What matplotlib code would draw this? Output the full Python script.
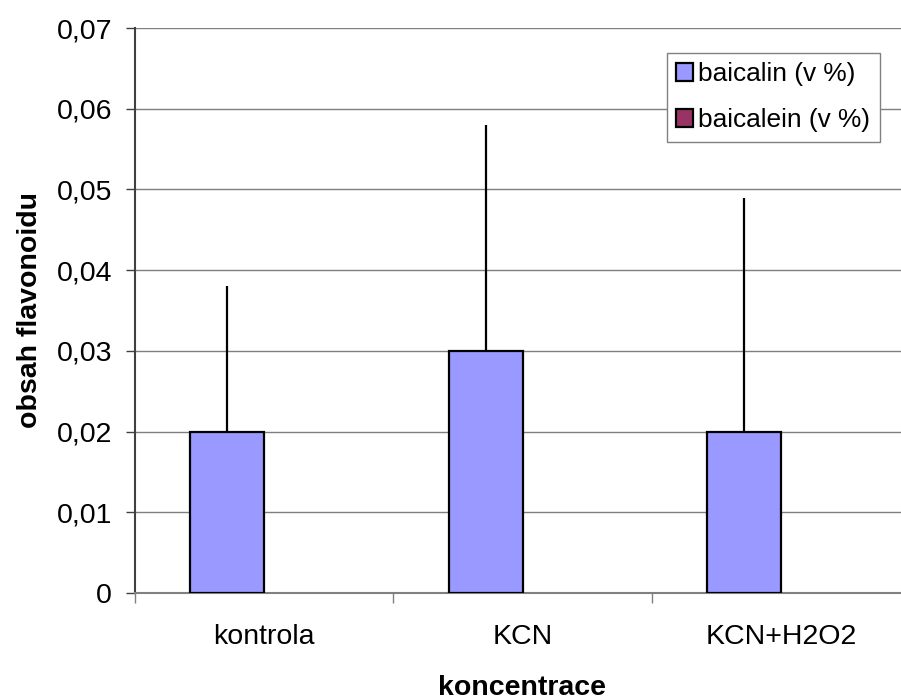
import matplotlib.pyplot as plt
import numpy as np
from matplotlib.ticker import FuncFormatter, FixedLocator
from matplotlib.patches import Patch

plt.rcParams['font.family'] = ['Liberation Sans', 'DejaVu Sans']

# data
kategorie = ['kontrola', 'KCN', 'KCN+H2O2']
baicalin = np.array([0.02, 0.03, 0.02])
baicalin_err = np.array([0.018, 0.028, 0.029])
baicalein = np.array([0.0, 0.0, 0.0])

fs = 20.5

fig = plt.figure(figsize=(9.01, 6.99), dpi=100)
ax = fig.add_axes([135 / 901, 106 / 699, 775 / 901, 565 / 699])

x = np.arange(len(kategorie)) + 0.5
w = 1 / 3.5

ax.bar(x - w / 2, baicalin, w, color='#9999FF', edgecolor='black', linewidth=1.6, zorder=3)
# zero-valued series: no visible outline
ax.bar(x + w / 2, baicalein, w, color='#993366', linewidth=0, zorder=3)
ax.errorbar(x - w / 2, baicalin, yerr=[np.zeros(3), baicalin_err], fmt='none',
            ecolor='black', elinewidth=1.6, capsize=0, zorder=4)

ax.set_xlim(0, 3)
ax.set_ylim(0, 0.07)
ax.set_yticks(np.arange(0, 0.071, 0.01))
ax.yaxis.set_major_formatter(FuncFormatter(lambda v, p: ('%g' % round(v, 3)).replace('.', ',')))
ax.grid(axis='y', color='#7f7f7f', linewidth=1.0, zorder=0)

ax.set_xticks(x)
ax.set_xticklabels(kategorie)
ax.xaxis.set_minor_locator(FixedLocator([0, 1, 2, 3]))
ax.tick_params(axis='x', which='major', length=0, pad=22, labelsize=fs)
ax.tick_params(axis='x', which='minor', length=7, width=1, color='#808080', direction='out')
ax.tick_params(axis='y', length=6.5, width=1, color='#404040', direction='out', pad=10, labelsize=fs)

for s in ['top', 'right']:
    ax.spines[s].set_visible(False)
ax.spines['left'].set_color('#404040')
ax.spines['left'].set_linewidth(1.5)
ax.spines['bottom'].set_color('#808080')
ax.spines['bottom'].set_linewidth(1.5)

ax.set_xlabel('koncentrace', fontsize=fs, fontweight='bold', labelpad=18)
ax.set_ylabel('obsah flavonoidu', fontsize=fs, fontweight='bold', labelpad=10)

handles = [Patch(facecolor='#9999FF', edgecolor='black', linewidth=1.6, label='baicalin (v %)'),
           Patch(facecolor='#993366', edgecolor='black', linewidth=1.6, label='baicalein (v %)')]
leg = ax.legend(handles=handles, loc='upper left', bbox_to_anchor=(667 / 901, 1 - 53 / 699),
                bbox_transform=fig.transFigure, fontsize=fs * 0.92, fancybox=False,
                framealpha=1, edgecolor='#808080', borderaxespad=0,
                handlelength=0.65, handleheight=0.65, handletextpad=0.2,
                borderpad=0.35, labelspacing=0.85)
leg.get_frame().set_linewidth(1.0)

plt.savefig('out.png', dpi=100)
